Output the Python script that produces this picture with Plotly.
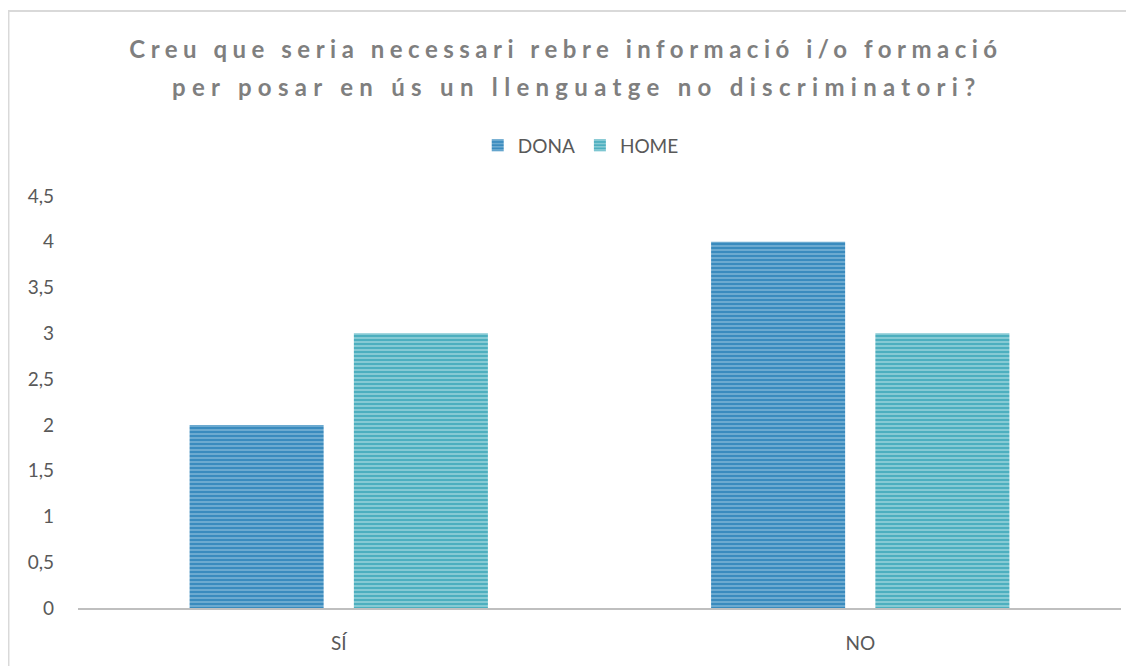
import plotly.graph_objects as go

categories = ["SÍ", "NO"]
dona = [2, 4]
home = [3, 3]
y_tickvals = [0, 0.5, 1, 1.5, 2, 2.5, 3, 3.5, 4, 4.5]
y_ticktext = ["0", "0,5", "1", "1,5", "2", "2,5", "3", "3,5", "4", "4,5"]
title_line1 = "Creu que seria necessari rebre informació i/o formació"
title_line2 = "per posar en ús un llenguatge no discriminatori?"

FONT = "Lato"
W, H = 1126, 658  # page body has an 8px margin
OFF = 8

fig = go.Figure()
fig.add_trace(go.Bar(
    name="DONA", x=categories, y=dona,
    marker=dict(color="#3A8BBE", line=dict(width=0),
                pattern=dict(shape="-", bgcolor="#3A8BBE", fgcolor="#A8D2E8",
                             size=4, solidity=0.45, fillmode="overlay")),
))
fig.add_trace(go.Bar(
    name="HOME", x=categories, y=home,
    marker=dict(color="#4DAFBF", line=dict(width=0),
                pattern=dict(shape="-", bgcolor="#4DAFBF", fgcolor="#CDEBEF",
                             size=4, solidity=0.45, fillmode="overlay")),
))

title_font = dict(family=FONT, size=24, color="#7F7F7F", weight="bold")
fig.update_layout(
    width=W, height=H,
    margin=dict(l=78 - OFF, r=21 - OFF, t=196 - OFF, b=56 - OFF),
    paper_bgcolor="white", plot_bgcolor="white",
    barmode="group", bargap=0.37, bargroupgap=0.184,
    separators=",.",
    font=dict(family=FONT, color="#595959", size=19),
    title=dict(
        text=f'<span style="letter-spacing:5.5px">{title_line1}</span>',
        x=(566 - OFF) / W, xref="container", xanchor="center",
        y=1 - (50 - OFF) / H, yref="container", yanchor="middle",
        font=title_font,
    ),
    legend=dict(orientation="h", x=0.482, xanchor="center", y=1.123, yanchor="middle",
                font=dict(family=FONT, size=19, color="#595959"),
                itemwidth=30, traceorder="normal"),
    showlegend=True,
)
fig.add_annotation(
    text=f'<span style="letter-spacing:6.3px">{title_line2}</span>',
    xref="paper", yref="paper",
    x=(573 - 78) / 1035, y=(610 - 86) / 414,
    xanchor="center", yanchor="middle", showarrow=False, font=title_font,
)
fig.update_xaxes(showgrid=False, showline=True, linecolor="#BFBFBF", linewidth=2,
                 ticks="", ticklabelstandoff=17, tickfont=dict(size=19, color="#595959"))
fig.update_yaxes(range=[0, 4.5], tickvals=y_tickvals, ticktext=y_ticktext,
                 showgrid=False, zeroline=False, showline=False, ticks="",
                 ticklabelstandoff=23, tickfont=dict(size=19, color="#595959"))

fig.add_shape(type="rect", xref="paper", yref="paper",
              x0=(9 - 78) / 1035, x1=(1140 - 78) / 1035,
              y0=(610 - 680) / 414, y1=(610 - 10) / 414,
              line=dict(color="#D9D9D9", width=2), fillcolor="rgba(0,0,0,0)", layer="below")

fig.write_html("out.html")
